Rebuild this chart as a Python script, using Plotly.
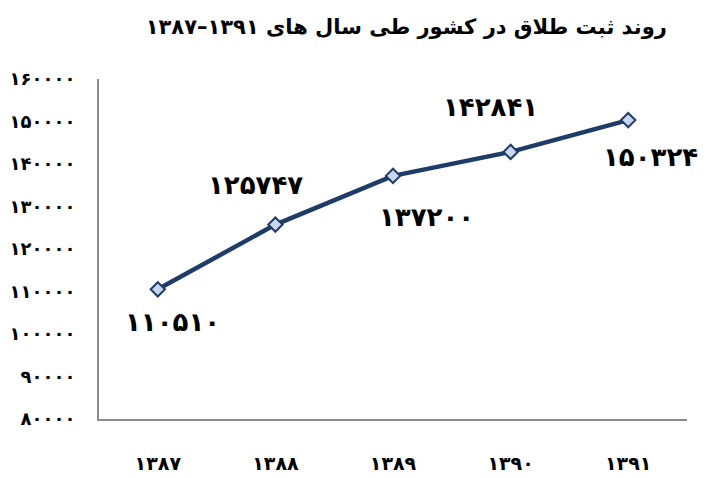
import plotly.graph_objects as go

FA = str.maketrans("0123456789", "۰۱۲۳۴۵۶۷۸۹")

def fa(v):
    return str(v).translate(FA)

years = [1387, 1388, 1389, 1390, 1391]
divorces = [110510, 125747, 137200, 142841, 150324]
y_ticks = [80000, 90000, 100000, 110000, 120000, 130000, 140000, 150000, 160000]
title_text = "روند ثبت طلاق در کشور طی سال های ۱۳۹۱–۱۳۸۷"

# label offsets in pixels (dx, dy) relative to each point
label_dx = [15, -20, 33, -20, 22]
label_dy = [-33, 40, -41, 45, -37]

x_cats = [fa(y) for y in years]
FONT = "DejaVu Sans"

fig = go.Figure()
fig.add_trace(go.Scatter(
    x=x_cats, y=divorces, mode="lines+markers",
    line=dict(color="#1F3C68", width=4.5),
    marker=dict(symbol="diamond", size=11, color="#C9D6F0",
                line=dict(color="#1F3C68", width=2)),
    hoverinfo="skip", showlegend=False,
))

for xc, v, dx, dy in zip(x_cats, divorces, label_dx, label_dy):
    fig.add_annotation(x=xc, y=v, text=fa(v), showarrow=False,
                       xshift=dx, yshift=dy,
                       font=dict(family=FONT, size=26, color="black", weight="bold"))

fig.update_layout(
    width=709, height=478,
    margin=dict(l=99, r=22, t=79, b=59, autoexpand=False),
    paper_bgcolor="white", plot_bgcolor="white",
    title=dict(text=title_text, x=0.573, xanchor="center", y=0.945, yanchor="middle",
               font=dict(family=FONT, size=21, color="black", weight="bold")),
    xaxis=dict(type="category", range=[-0.5, 4.5], showgrid=False, zeroline=False,
               automargin=False,
               showline=True, linecolor="#8C8C8C", linewidth=2, ticks="",
               ticklabelstandoff=26,
               tickfont=dict(family=FONT, size=19, color="black", weight="bold")),
    yaxis=dict(range=[80000, 160000], tickvals=y_ticks, automargin=False,
               ticktext=[fa(t) for t in y_ticks], showgrid=False, zeroline=False,
               showline=True, linecolor="#8C8C8C", linewidth=2, ticks="",
               ticklabelstandoff=18,
               tickfont=dict(family=FONT, size=18, color="black", weight="bold")),
)

fig.write_html("out.html", config={"displayModeBar": False},
               post_script="document.body.style.margin='0';document.body.style.overflow='hidden';")
